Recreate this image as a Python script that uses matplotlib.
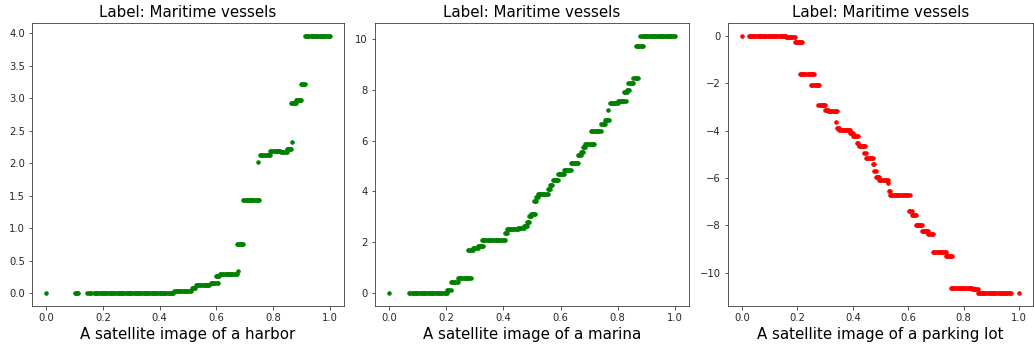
import numpy as np
import matplotlib.pyplot as plt

# each run: dots from start to end at a constant attribution level
harbor_start = [0.0, 0.10, 0.145, 0.168, 0.452, 0.515, 0.528, 0.58, 0.60, 0.613,
                0.676, 0.672, 0.695, 0.748, 0.754, 0.79, 0.828, 0.848, 0.865,
                0.862, 0.882, 0.898, 0.912]
harbor_end = [0.0, 0.113, 0.158, 0.448, 0.51, 0.525, 0.575, 0.605, 0.61, 0.672,
              0.676, 0.695, 0.75, 0.748, 0.79, 0.825, 0.848, 0.862, 0.865,
              0.88, 0.90, 0.912, 1.0]
harbor_level = [0.0, 0.0, 0.0, 0.0, 0.035, 0.08, 0.12, 0.15, 0.26, 0.30,
                0.34, 0.75, 1.44, 2.02, 2.12, 2.19, 2.17, 2.22, 2.32,
                2.92, 2.97, 3.22, 3.96]

marina_start = [0.0, 0.07, 0.202, 0.215, 0.24, 0.277, 0.293, 0.31, 0.325, 0.405,
                0.412, 0.45, 0.472, 0.482, 0.488, 0.497, 0.508, 0.515, 0.52,
                0.555, 0.563, 0.572, 0.59, 0.612, 0.635, 0.662, 0.67, 0.677,
                0.686, 0.707, 0.74, 0.755, 0.767, 0.772, 0.80, 0.822, 0.832,
                0.838, 0.855, 0.865, 0.88]
marina_end = [0.0, 0.202, 0.215, 0.24, 0.285, 0.293, 0.31, 0.328, 0.405, 0.412,
              0.45, 0.472, 0.482, 0.49, 0.497, 0.512, 0.515, 0.52, 0.555,
              0.562, 0.57, 0.59, 0.612, 0.635, 0.662, 0.67, 0.677, 0.686,
              0.717, 0.74, 0.755, 0.77, 0.767, 0.80, 0.828, 0.832, 0.84,
              0.855, 0.872, 0.888, 1.0]
marina_level = [0.0, 0.0, 0.13, 0.42, 0.58, 1.70, 1.77, 1.86, 2.09, 2.38,
                2.51, 2.56, 2.65, 2.80, 3.02, 3.12, 3.62, 3.78, 3.88,
                4.08, 4.25, 4.45, 4.68, 4.84, 5.10, 5.43, 5.56, 5.75,
                5.86, 6.37, 6.65, 6.80, 7.22, 7.47, 7.55, 7.90, 8.0,
                8.28, 8.45, 9.72, 10.12]

parking_start = [0.0, 0.025, 0.16, 0.19, 0.21, 0.25, 0.276, 0.30, 0.31, 0.34,
                 0.343, 0.352, 0.39, 0.40, 0.416, 0.422, 0.442, 0.448, 0.473,
                 0.478, 0.482, 0.495, 0.528, 0.53, 0.535, 0.603, 0.612, 0.627,
                 0.65, 0.672, 0.69, 0.735, 0.755, 0.83, 0.85, 1.0]
parking_end = [0.0, 0.16, 0.19, 0.218, 0.26, 0.278, 0.30, 0.31, 0.343, 0.34,
               0.352, 0.39, 0.40, 0.42, 0.42, 0.445, 0.447, 0.473, 0.478,
               0.482, 0.495, 0.528, 0.528, 0.535, 0.605, 0.612, 0.627, 0.65,
               0.672, 0.69, 0.735, 0.758, 0.83, 0.85, 0.97, 1.0]
parking_level = [0.0, 0.0, -0.03, -0.27, -1.62, -2.08, -2.92, -3.12, -3.18, -3.63,
                 -3.88, -3.98, -4.12, -4.22, -4.51, -4.65, -4.95, -5.17, -5.40,
                 -5.72, -5.95, -6.07, -6.20, -6.54, -6.72, -7.42, -7.55, -7.98,
                 -8.25, -8.36, -9.15, -9.28, -10.66, -10.70, -10.87, -10.87]

titles = ["Label: Maritime vessels"] * 3
xlabels = ["A satellite image of a harbor",
           "A satellite image of a marina",
           "A satellite image of a parking lot"]
colors = ["green", "green", "red"]


def expand(starts, ends, levels, step=0.004):
    xs, ys = [], []
    for a, b, v in zip(starts, ends, levels):
        n = max(1, int(round((b - a) / step)) + 1)
        xs.extend(np.linspace(a, b, n))
        ys.extend([v] * n)
    return np.array(xs), np.array(ys)


W, H = 1034, 349
fig = plt.figure(figsize=(W / 72, H / 72), dpi=72)

# axes boxes in pixels: left, right, top, bottom
boxes = [(32, 344, 23, 306), (375, 689, 23, 306), (728, 1033, 23, 306)]
series = [(harbor_start, harbor_end, harbor_level),
          (marina_start, marina_end, marina_level),
          (parking_start, parking_end, parking_level)]

for (l, r, t, b), data, title, xlabel, c in zip(boxes, series, titles, xlabels, colors):
    ax = fig.add_axes([l / W, 1 - b / H, (r - l) / W, (b - t) / H])
    x, y = expand(*data)
    ax.plot(x, y, '.', color=c, markersize=7)
    ax.set_title(title, fontsize=15)
    ax.set_xlabel(xlabel, fontsize=15)
    for s in ax.spines.values():
        s.set_color('#333333')
    ax.tick_params(colors='#333333', labelcolor='#262626')

fig.savefig('out.png', dpi=72)
